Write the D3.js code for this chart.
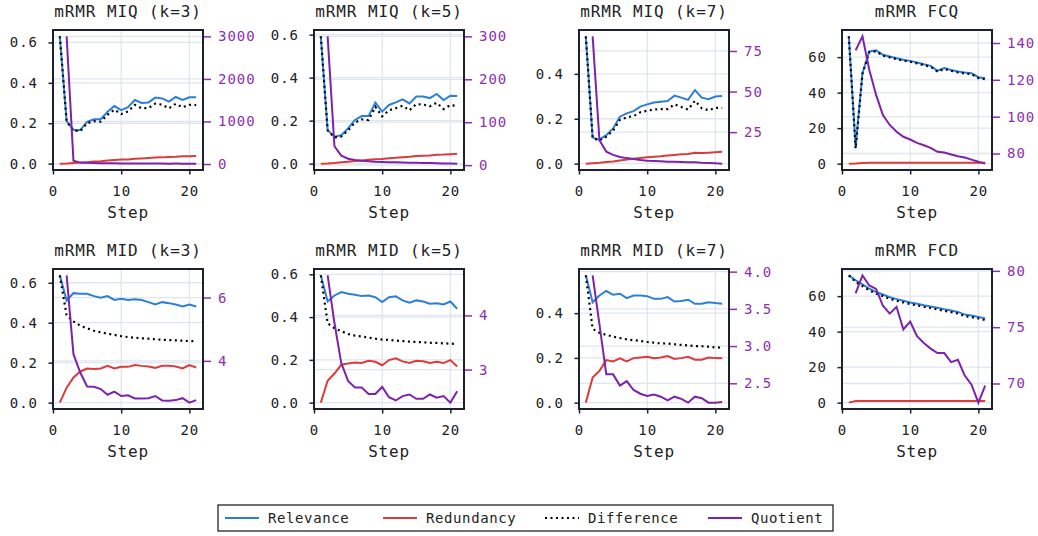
<!DOCTYPE html>
<html>
<head>
<meta charset="utf-8">
<script src="https://cdn.jsdelivr.net/npm/d3@7"></script>
<style>
body { margin: 0; background: #fff; }
text { font-family: "DejaVu Sans Mono", monospace; }
</style>
</head>
<body>
<div id="chart"></div>
<script>
// steps 1..21
var steps = [1,2,3,4,5,6,7,8,9,10,11,12,13,14,15,16,17,18,19,20,21];

var miq3Rel  = [0.63,0.21,0.166,0.166,0.207,0.22,0.22,0.257,0.285,0.265,0.279,0.315,0.30,0.303,0.327,0.323,0.307,0.33,0.315,0.328,0.328];
var miq3Red  = [0,0.001,0.003,0.005,0.007,0.01,0.012,0.015,0.018,0.02,0.021,0.024,0.026,0.028,0.03,0.031,0.033,0.034,0.036,0.037,0.038];
var miq3Diff = [0.63,0.209,0.163,0.161,0.2,0.21,0.208,0.242,0.267,0.245,0.258,0.291,0.274,0.275,0.297,0.292,0.274,0.296,0.279,0.291,0.29];
var miq3Quo  = [null,3000,80,33,28,22,18,17,16,13,13,13,12,11,11,10,9,10,9,9,9];

var miq5Rel  = [0.592,0.156,0.125,0.132,0.164,0.203,0.221,0.221,0.284,0.242,0.273,0.285,0.299,0.28,0.312,0.312,0.305,0.324,0.296,0.316,0.315];
var miq5Red  = [0,0.001,0.003,0.006,0.009,0.012,0.015,0.018,0.02,0.022,0.025,0.027,0.03,0.032,0.035,0.037,0.038,0.041,0.042,0.044,0.046];
var miq5Diff = [0.592,0.155,0.122,0.126,0.155,0.191,0.206,0.203,0.264,0.22,0.248,0.258,0.269,0.248,0.277,0.275,0.267,0.283,0.254,0.272,0.269];
var miq5Quo  = [null,300,44,22,15,12,10,9,8,7.5,7,6.5,6,5.5,5.5,5,5,4.5,4,4,3.5];

var miq7Rel  = [0.567,0.116,0.107,0.127,0.157,0.209,0.224,0.234,0.254,0.264,0.272,0.276,0.279,0.303,0.294,0.284,0.328,0.294,0.287,0.299,0.301];
var miq7Red  = [0,0.002,0.004,0.007,0.01,0.014,0.018,0.022,0.025,0.028,0.031,0.033,0.036,0.039,0.042,0.043,0.048,0.047,0.049,0.051,0.053];
var miq7Diff = [0.567,0.114,0.103,0.12,0.147,0.195,0.206,0.212,0.229,0.236,0.241,0.243,0.243,0.264,0.252,0.241,0.28,0.247,0.238,0.248,0.248];
var miq7Quo  = [null,84,20,13,11,9.7,9,8.5,7.8,7.4,7.2,7,6.8,6.7,6.6,6.4,6.5,6.2,6,5.8,5.6];

var fcqRel  = [71.7,9.4,50.9,63.2,63.8,61.3,60.4,59.4,58.5,57.9,57,56,55.1,52.3,53.8,52.8,51.9,51.3,50.9,48.7,48.1];
var fcqRed  = [0,0.1,0.35,0.45,0.5,0.5,0.5,0.5,0.5,0.5,0.5,0.5,0.5,0.5,0.5,0.5,0.5,0.5,0.5,0.5,0.5];
var fcqDiff = [71.7,8.5,50.5,62.8,63.3,60.8,59.9,58.9,58,57.4,56.5,55.5,54.6,51.8,53.3,52.3,51.4,50.8,50.4,48.2,47.6];
var fcqQuo  = [null,136,143.6,125.5,111.8,100.9,95.5,91.8,89.1,87.6,85.8,84.5,83.1,80.9,80.5,79.5,78.5,77.8,76.7,75.5,74.5];

var mid3Rel  = [0.637,0.511,0.548,0.545,0.545,0.533,0.525,0.533,0.514,0.52,0.514,0.518,0.514,0.503,0.491,0.503,0.498,0.491,0.481,0.491,0.481];
var mid3Red  = [0,0.075,0.126,0.156,0.171,0.168,0.171,0.184,0.171,0.179,0.179,0.188,0.184,0.181,0.173,0.184,0.184,0.181,0.171,0.188,0.176];
var mid3Diff = [0.637,0.436,0.407,0.385,0.372,0.36,0.352,0.345,0.339,0.333,0.328,0.325,0.322,0.32,0.317,0.315,0.313,0.312,0.31,0.308,0.307];
var mid3Quo  = [null,6.7,4.21,3.63,3.19,3.18,3.11,2.93,3.03,2.89,2.91,2.81,2.81,2.82,2.89,2.75,2.74,2.76,2.82,2.68,2.76];

var mid5Rel  = [0.595,0.473,0.501,0.517,0.509,0.504,0.498,0.501,0.493,0.47,0.493,0.497,0.478,0.467,0.478,0.473,0.462,0.465,0.459,0.473,0.439];
var mid5Red  = [0,0.102,0.136,0.177,0.183,0.188,0.185,0.196,0.191,0.175,0.199,0.207,0.193,0.185,0.196,0.193,0.185,0.191,0.185,0.199,0.169];
var mid5Diff = [0.595,0.371,0.348,0.334,0.321,0.313,0.309,0.304,0.299,0.295,0.293,0.29,0.288,0.285,0.284,0.282,0.28,0.279,0.277,0.276,0.274];
var mid5Quo  = [null,4.74,3.86,3.12,2.79,2.67,2.67,2.55,2.55,2.68,2.49,2.43,2.51,2.54,2.46,2.46,2.54,2.48,2.51,2.39,2.6];

var mid7Rel  = [0.569,0.449,0.479,0.499,0.482,0.487,0.467,0.479,0.479,0.476,0.464,0.464,0.472,0.452,0.454,0.46,0.442,0.442,0.449,0.445,0.442];
var mid7Red  = [0,0.112,0.142,0.19,0.184,0.198,0.184,0.199,0.202,0.205,0.199,0.202,0.208,0.195,0.199,0.205,0.192,0.192,0.202,0.199,0.198];
var mid7Diff = [0.569,0.33,0.312,0.303,0.295,0.289,0.283,0.279,0.276,0.271,0.268,0.265,0.264,0.261,0.258,0.256,0.253,0.252,0.25,0.247,0.246];
var mid7Quo  = [null,3.95,3.29,2.62,2.62,2.47,2.53,2.41,2.36,2.33,2.35,2.32,2.27,2.32,2.29,2.24,2.32,2.3,2.24,2.24,2.25];

var fcdRel  = [71.7,68.9,66.6,64.2,62.3,60.9,59.4,58.3,57.4,56.4,55.7,54.9,54.2,53.4,52.6,51.9,51.1,49.6,49.1,48.3,47.4];
var fcdRed  = [0,0.9,0.9,0.9,0.9,0.9,0.9,0.9,0.9,0.9,0.9,0.9,0.9,0.9,0.9,0.9,0.9,0.9,0.9,0.9,0.9];
var fcdDiff = [71.7,68,65.7,63.3,61.4,60,58.5,57.4,56.5,55.5,54.8,54,53.3,52.5,51.7,51,50.2,48.7,48.2,47.4,46.5];
var fcdQuo  = [null,78,79.6,78.7,78.4,76.9,76.2,76.8,74.8,75.5,74.2,73.6,73.1,72.7,72.7,71.9,72.1,70.7,69.9,68.3,69.8];

var xTicks = [0,10,20];
var leftTicks6 = [0,0.2,0.4,0.6];
var leftTicks4 = [0,0.2,0.4];
var leftTicksFC = [0,20,40,60];

var titles = ["mRMR MIQ (k=3)","mRMR MIQ (k=5)","mRMR MIQ (k=7)","mRMR FCQ",
              "mRMR MID (k=3)","mRMR MID (k=5)","mRMR MID (k=7)","mRMR FCD"];
var seriesNames = ["Relevance","Redundancy","Difference","Quotient"];

var colBlue = "#2b7fd8", colRed = "#dc3b3b", colPurple = "#7d22aa", colPurpleTxt = "#8e2fb0";
var frameCol = "#1c2030", gridCol = "#dfe5ee";

var panels = [
  {rel:miq3Rel, red:miq3Red, diff:miq3Diff, quo:miq3Quo, lt:leftTicks6, rt:[0,1000,2000,3000], lf:".1f", rf:"d"},
  {rel:miq5Rel, red:miq5Red, diff:miq5Diff, quo:miq5Quo, lt:leftTicks6, rt:[0,100,200,300], lf:".1f", rf:"d"},
  {rel:miq7Rel, red:miq7Red, diff:miq7Diff, quo:miq7Quo, lt:leftTicks4, rt:[25,50,75], lf:".1f", rf:"d"},
  {rel:fcqRel, red:fcqRed, diff:fcqDiff, quo:fcqQuo, lt:leftTicksFC, rt:[80,100,120,140], lf:"d", rf:"d"},
  {rel:mid3Rel, red:mid3Red, diff:mid3Diff, quo:mid3Quo, lt:leftTicks6, rt:[4,6], lf:".1f", rf:"d"},
  {rel:mid5Rel, red:mid5Red, diff:mid5Diff, quo:mid5Quo, lt:leftTicks6, rt:[3,4], lf:".1f", rf:"d"},
  {rel:mid7Rel, red:mid7Red, diff:mid7Diff, quo:mid7Quo, lt:leftTicks4, rt:[2.5,3.0,3.5,4.0], lf:".1f", rf:".1f"},
  {rel:fcdRel, red:fcdRed, diff:fcdDiff, quo:fcdQuo, lt:leftTicksFC, rt:[70,75,80], lf:"d", rf:"d"}
];

var width = 1038, height = 536;
var colX = [53,314,579,842], rowY = [30,269], pw = 150, ph = 140;

var svg = d3.select("#chart").append("svg")
  .attr("width", width)
  .attr("height", height);

function padded(vals){
  var e = d3.extent(vals.filter(function(v){return v!=null}));
  var r = e[1]-e[0];
  return [e[0]-0.05*r, e[1]+0.05*r];
}

panels.forEach(function(p,i){
  var x0 = colX[i%4], y0 = rowY[Math.floor(i/4)];
  var g = svg.append("g").attr("transform","translate("+x0+","+y0+")");

  var x = d3.scaleLinear().domain([0,22]).range([0,pw]);
  var yL = d3.scaleLinear().domain(padded(p.rel.concat(p.red,p.diff))).range([ph,0]);
  var yR = d3.scaleLinear().domain(padded(p.quo)).range([ph,0]);

  g.append("clipPath").attr("id","clip"+i)
    .append("rect").attr("width",pw).attr("height",ph);

  // grid
  var grid = g.append("g").attr("class","grid");
  grid.selectAll("line.gx").data(xTicks).enter().append("line")
    .attr("x1",function(d){return x(d)}).attr("x2",function(d){return x(d)})
    .attr("y1",0).attr("y2",ph)
    .style("stroke",gridCol).style("stroke-width",1.3);
  grid.selectAll("line.gl").data(p.lt).enter().append("line")
    .attr("x1",0).attr("x2",pw)
    .attr("y1",function(d){return yL(d)}).attr("y2",function(d){return yL(d)})
    .style("stroke",gridCol).style("stroke-width",1.3);
  grid.selectAll("line.gr").data(p.rt).enter().append("line")
    .attr("x1",0).attr("x2",pw)
    .attr("y1",function(d){return yR(d)}).attr("y2",function(d){return yR(d)})
    .style("stroke",gridCol).style("stroke-width",1.3);

  var lineL = d3.line()
    .defined(function(d){return d!=null})
    .x(function(d,j){return x(steps[j])})
    .y(function(d){return yL(d)});
  var lineR = d3.line()
    .defined(function(d){return d!=null})
    .x(function(d,j){return x(steps[j])})
    .y(function(d){return yR(d)});

  var plot = g.append("g").attr("clip-path","url(#clip"+i+")");
  plot.append("path").datum(p.rel).attr("d",lineL)
    .style("fill","none").style("stroke",colBlue).style("stroke-width",2);
  plot.append("path").datum(p.red).attr("d",lineL)
    .style("fill","none").style("stroke",colRed).style("stroke-width",2);
  plot.append("path").datum(p.diff).attr("d",lineL)
    .style("fill","none").style("stroke","#000").style("stroke-width",2.2)
    .style("stroke-dasharray","2,3.5");
  plot.append("path").datum(p.quo).attr("d",lineR)
    .style("fill","none").style("stroke",colPurple).style("stroke-width",2);

  // axes
  var xAxis = d3.axisBottom(x).tickValues(xTicks).tickSize(4.5).tickPadding(12).tickFormat(d3.format("d"));
  var gx = g.append("g").attr("transform","translate(0,"+ph+")").call(xAxis);
  var yAxisL = d3.axisLeft(yL).tickValues(p.lt).tickSize(4.5).tickPadding(10.5).tickFormat(d3.format(p.lf));
  var gl = g.append("g").call(yAxisL);
  var yAxisR = d3.axisRight(yR).tickValues(p.rt).tickSize(8).tickPadding(7).tickFormat(d3.format(p.rf));
  var gr = g.append("g").attr("transform","translate("+pw+",0)").call(yAxisR);

  [gx,gl,gr].forEach(function(a){
    a.select(".domain").remove();
    a.selectAll("text").style("font-size","14px").style("letter-spacing","1px")
      .style("font-family","'DejaVu Sans Mono', monospace");
  });
  gx.selectAll("line").style("stroke",frameCol).style("stroke-width",1.5);
  gl.selectAll("line").style("stroke",frameCol).style("stroke-width",1.5);
  gx.selectAll("text").style("fill","#222");
  gl.selectAll("text").style("fill","#222");
  gr.selectAll("line").style("stroke",colPurpleTxt).style("stroke-width",1.5);
  gr.selectAll("text").style("fill",colPurpleTxt);

  g.append("rect").attr("width",pw).attr("height",ph)
    .style("fill","none").style("stroke",frameCol).style("stroke-width",2);

  g.append("text")
    .attr("x",pw/2).attr("y",-13)
    .style("text-anchor","middle")
    .style("font-size","16px").style("letter-spacing","0.9px")
    .style("fill","#222")
    .text(titles[i]);

  g.append("text")
    .attr("x",pw/2).attr("y",ph+48)
    .style("text-anchor","middle")
    .style("font-size","16px").style("letter-spacing","0.8px")
    .style("fill","#222")
    .text("Step");
});

// legend
var legend = svg.append("g").attr("transform","translate(218,505)");
legend.append("rect").attr("width",615).attr("height",26)
  .style("fill","#fff").style("stroke","#111").style("stroke-width",1.2);
var legX = [7,165,327,490];
var legStyles = [
  {c:colBlue, dash:null},
  {c:colRed, dash:null},
  {c:"#000", dash:"2,3.5"},
  {c:colPurple, dash:null}
];
seriesNames.forEach(function(name,i){
  var lg = legend.append("g").attr("transform","translate("+legX[i]+",0)");
  lg.append("line").attr("x1",0).attr("x2",34).attr("y1",13).attr("y2",13)
    .style("stroke",legStyles[i].c).style("stroke-width",2)
    .style("stroke-dasharray",legStyles[i].dash);
  lg.append("text").attr("x",43).attr("y",17.5)
    .style("font-size","14px").style("letter-spacing","0.6px")
    .style("fill","#222")
    .text(name);
});
</script>
</body>
</html>
